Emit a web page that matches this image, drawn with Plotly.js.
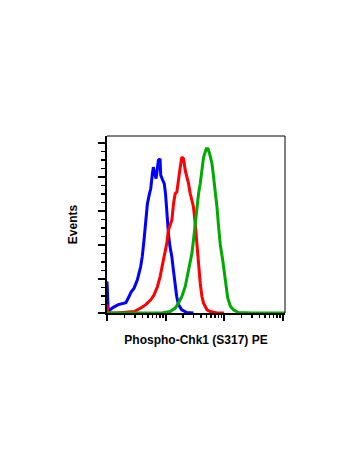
<!DOCTYPE html>
<html>
<head>
<meta charset="utf-8">
<script src="https://cdn.plot.ly/plotly-3.0.1.min.js"></script>
<style>html,body{margin:0;padding:0;background:#fff;}#chart{width:350px;height:467px;}</style>
</head>
<body>
<div id="chart"></div>
<script>
// Blue histogram (fluorescence value, events)
var blueX = [1.0, 1.05, 1.13, 1.28, 1.56, 1.9, 2.1, 2.38, 2.6, 2.9, 3.3, 3.76, 4.0, 4.29, 4.58, 4.89, 5.3, 5.58, 5.96, 6.19, 6.5, 6.88, 7.2, 7.54, 8.05, 8.27, 8.95, 9.5, 10.0, 10.5, 11.2, 11.9, 12.8, 13.6, 14.5, 15.5, 16.6, 18.9, 23, 30];
var blueY = [18.5, 1.0, 1.9, 3.3, 4.9, 5.5, 6.0, 9.7, 12.5, 14.6, 19.5, 27.3, 33.1, 42.9, 54.6, 64, 70, 73, 81.9, 85.7, 82, 79, 84, 89.7, 90.6, 81, 78, 76, 70, 58.5, 46.8, 39, 33.1, 25.3, 17.5, 9.7, 4.9, 1.9, 0.3, 0];
// Red histogram
var redX = [1.0, 1.03, 1.5, 1.9, 2.5, 2.9, 3.78, 4.6, 5.6, 6.38, 7.27, 8.08, 9.2, 10.5, 11.2, 12.8, 13.7, 14.6, 15.6, 16.6, 17.8, 19.0, 20.3, 21.7, 23.2, 24.7, 26.4, 30.0, 32.1, 34.4, 36.6, 39.1, 41.8, 44.6, 51, 58, 75.5, 100];
var redY = [5, 0, 0, 0.4, 0.6, 0.9, 2.9, 4.9, 7.8, 10.7, 15.6, 21.4, 31.2, 40.9, 48.7, 54.6, 64.3, 70.2, 71.1, 79.9, 85.7, 91.6, 90.6, 83.8, 79.9, 76, 70.2, 62.3, 52.6, 39, 27.3, 17.5, 9.7, 5.8, 1.9, 0.9, 0, 0];
// Green histogram
var greenX = [1, 5, 9, 12.0, 14.6, 16.6, 19.0, 21.7, 24.7, 28.2, 30.0, 32.1, 34.4, 36.6, 39.1, 41.8, 44.6, 49.6, 53.0, 56.5, 62.1, 66.1, 70.6, 75.5, 80.5, 86.1, 95.7, 105, 115, 128, 144, 175, 300, 1100];
var greenY = [0, 0, 0.2, 0.9, 2.9, 5.8, 9.7, 15.6, 25.3, 35.1, 42.9, 52.6, 62.3, 70.2, 76, 83.8, 91.6, 96.5, 96.5, 93.6, 87.7, 79.9, 72.1, 62.3, 50.6, 40, 30, 18, 9, 4, 1.9, 0.3, 0, 0];

var xTitle = "Phospho-Chk1 (S317) PE";
var yTitle = "Events";

var font = {family: "Liberation Sans, Arial, sans-serif", size: 12, color: "#000", weight: "bold"};

var traces = [
  {x: blueX, y: blueY, mode: "lines", line: {color: "#0000ff", width: 3}, hoverinfo: "skip"},
  {x: redX, y: redY, mode: "lines", line: {color: "#ff0000", width: 3}, hoverinfo: "skip"},
  {x: greenX, y: greenY, mode: "lines", line: {color: "#00aa00", width: 3}, hoverinfo: "skip"}
];

var layout = {
  width: 350, height: 467,
  margin: {l: 107, r: 65, t: 136, b: 154},
  paper_bgcolor: "#fff", plot_bgcolor: "#fff",
  showlegend: false,
  xaxis: {
    type: "log", range: [0, 3.04], dtick: 1, tick0: 0,
    showticklabels: false, showgrid: false, zeroline: false,
    showline: true, linecolor: "#000", linewidth: 2,
    ticks: "outside", ticklen: 6, tickwidth: 2, tickcolor: "#000",
    minor: {dtick: "D1", ticks: "outside", ticklen: 3, tickwidth: 1.5, tickcolor: "#000", showgrid: false},
    title: {text: xTitle, font: font, standoff: 16}
  },
  yaxis: {
    range: [0, 104], dtick: 20, tick0: 0,
    showticklabels: false, showgrid: false, zeroline: false,
    showline: true, linecolor: "#000", linewidth: 2,
    ticks: "outside", ticklen: 7, tickwidth: 2, tickcolor: "#000",
    minor: {dtick: 5, ticks: "outside", ticklen: 4, tickwidth: 1.5, tickcolor: "#000", showgrid: false},
    title: {text: yTitle, font: font, standoff: 18}
  },
  shapes: [
    {type: "line", xref: "paper", yref: "paper", x0: 0, x1: 1, y0: 1, y1: 1, line: {color: "#000", width: 1}},
    {type: "line", xref: "paper", yref: "paper", x0: 1, x1: 1, y0: 0, y1: 1, line: {color: "#000", width: 1}}
  ]
};

Plotly.newPlot("chart", traces, layout, {staticPlot: true, displayModeBar: false});
</script>
</body>
</html>
